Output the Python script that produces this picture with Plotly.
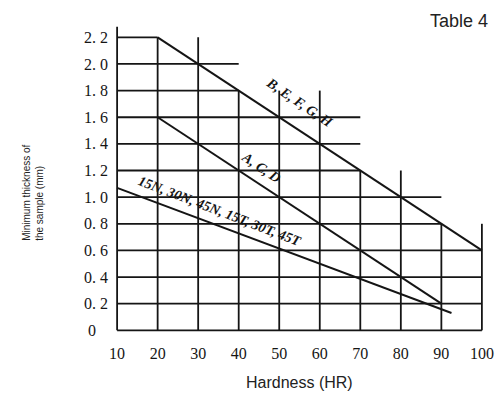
import plotly.graph_objects as go

# ---- data ----
x_ticks = [10, 20, 30, 40, 50, 60, 70, 80, 90, 100]
x_ticktext = ["10", "20", "30", "40", "50", "60", "70", "80", "90", "100"]
y_ticks = [0, 0.2, 0.4, 0.6, 0.8, 1.0, 1.2, 1.4, 1.6, 1.8, 2.0, 2.2]
y_ticktext = ["0\u00a0\u00a0\u00a0", "0. 2", "0. 4", "0. 6", "0. 8", "1. 0",
              "1. 2", "1. 4", "1. 6", "1. 8", "2. 0", "2. 2"]

# staircase grid: vertical lines (x, top) and horizontal lines (y, right end)
vert_x = [10, 20, 30, 40, 50, 60, 70, 80, 90, 100]
vert_top = [2.28, 2.2, 2.2, 1.8, 1.8, 1.8, 1.2, 1.2, 0.8, 0.8]
horiz_y = [0, 0.2, 0.4, 0.6, 0.8, 1.0, 1.2, 1.4, 1.6, 1.8, 2.0, 2.2]
horiz_right = [100, 100, 100, 100, 90, 90, 70, 70, 70, 40, 40, 20]

# curves
bef_x = [20, 100]
bef_y = [2.2, 0.6]
acd_x = [20, 90]
acd_y = [1.6, 0.2]
nt_x = [10, 92.5]
nt_y = [1.07, 0.13]

label_bef = "B, E, F, G, H"
label_acd = "A, C, D"
label_nt = "15N, 30N, 45N, 15T, 30T, 45T"

ink = "#151515"

gx, gy = [], []
for xv, top in zip(vert_x, vert_top):
    gx += [xv, xv, None]
    gy += [0, top, None]
for yv, right in zip(horiz_y, horiz_right):
    gx += [10, right, None]
    gy += [yv, yv, None]

fig = go.Figure()
fig.add_trace(go.Scatter(x=gx, y=gy, mode="lines",
                         line=dict(color=ink, width=1.8), hoverinfo="skip"))
for xs, ys in [(bef_x, bef_y), (acd_x, acd_y), (nt_x, nt_y)]:
    fig.add_trace(go.Scatter(x=xs, y=ys, mode="lines",
                             line=dict(color=ink, width=2), hoverinfo="skip"))

lab_font = dict(family="Liberation Serif", size=14, color=ink)
fig.add_annotation(x=55.0, y=1.71, text="<b><i>" + label_bef + "</i></b>",
                   showarrow=False, textangle=34, font=lab_font)
fig.add_annotation(x=45.5, y=1.22, text="<b><i>" + label_acd + "</i></b>",
                   showarrow=False, textangle=34, font=lab_font)
fig.add_annotation(x=35.5, y=0.89, text="<b><i>" + label_nt + "</i></b>",
                   showarrow=False, textangle=21, font=lab_font)

fig.add_annotation(xref="paper", yref="paper", x=1.0, y=1.0,
                   xanchor="right", yanchor="top", yshift=15,
                   text="Table 4", showarrow=False,
                   font=dict(family="Liberation Sans", size=18, color="#222"))

fig.add_annotation(xref="paper", yref="paper", x=0.5, y=-0.146,
                   xanchor="center", yanchor="middle",
                   text="Hardness (HR)", showarrow=False,
                   font=dict(family="Liberation Sans", size=16, color="#222"))

fig.add_annotation(xref="paper", yref="paper", x=-0.2, y=0.46,
                   xanchor="center", yanchor="middle",
                   text="Minimum thickness of<br>the sample (mm)",
                   showarrow=False, textangle=-90, align="left",
                   font=dict(family="Liberation Sans", size=10, color="#222"))

# page body has an 8px margin, so the figure is shrunk by 8px and offsets reduced
fig.update_layout(
    width=496, height=387,
    margin=dict(l=101, r=14, t=16, b=58),
    paper_bgcolor="white", plot_bgcolor="white",
    showlegend=False,
    xaxis=dict(range=[8, 102], tickvals=x_ticks, ticktext=x_ticktext,
               showgrid=False, zeroline=False, showline=False, automargin=False,
               ticks="outside", ticklen=2, tickcolor="rgba(0,0,0,0)",
               tickfont=dict(family="Liberation Serif", size=16, color=ink)),
    yaxis=dict(range=[-0.05, 2.3], tickvals=y_ticks, ticktext=y_ticktext,
               showgrid=False, zeroline=False, showline=False, automargin=False,
               ticks="",
               tickfont=dict(family="Liberation Serif", size=16, color=ink)),
)

fig.write_html("out.html")
